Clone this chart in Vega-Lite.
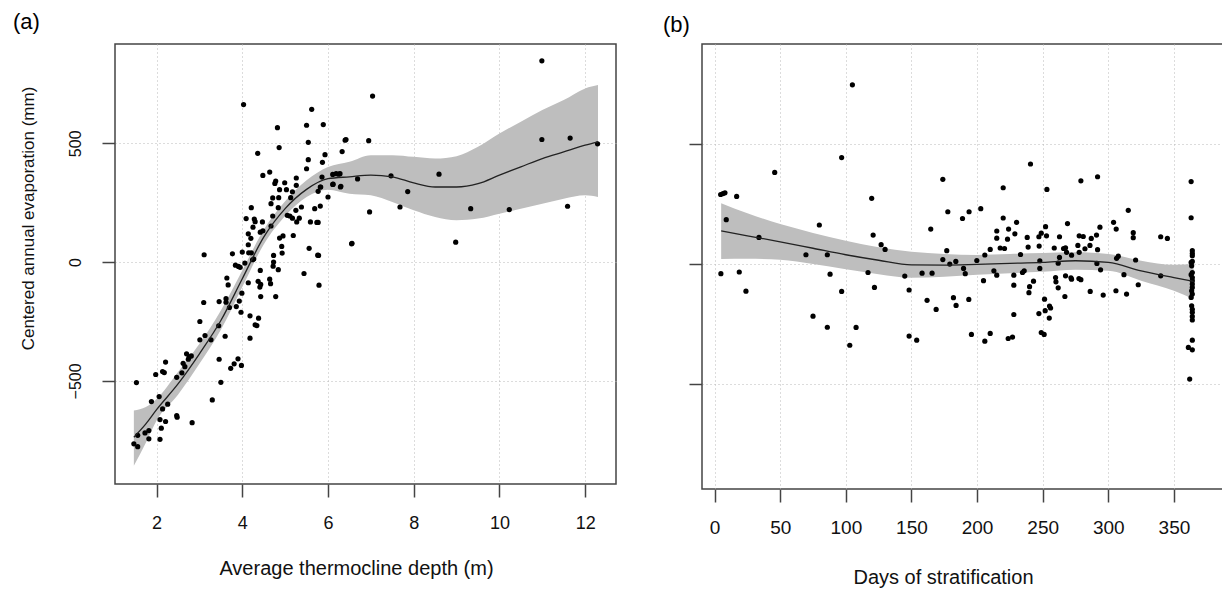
{
  "$schema": "https://vega.github.io/schema/vega-lite/v6.json",
  "padding": {"left": 12, "top": 10, "right": 0, "bottom": 0},
  "background": "white",
  "datasets": {
    "a_pts": [
      {"x": 4.03, "y": 663}, {"x": 5.62, "y": 643}, {"x": 4.82, "y": 566}, {"x": 5.50, "y": 576}, {"x": 5.89, "y": 579},
      {"x": 4.86, "y": 482}, {"x": 5.54, "y": 504}, {"x": 6.40, "y": 513}, {"x": 4.36, "y": 458}, {"x": 6.33, "y": 465},
      {"x": 5.54, "y": 431}, {"x": 5.93, "y": 452}, {"x": 5.87, "y": 420}, {"x": 5.50, "y": 393}, {"x": 4.48, "y": 365},
      {"x": 4.64, "y": 379}, {"x": 4.78, "y": 341}, {"x": 4.76, "y": 331}, {"x": 4.99, "y": 334}, {"x": 5.26, "y": 354},
      {"x": 4.87, "y": 305}, {"x": 5.03, "y": 305}, {"x": 5.17, "y": 296}, {"x": 5.26, "y": 323}, {"x": 4.71, "y": 270},
      {"x": 4.85, "y": 271}, {"x": 4.67, "y": 246}, {"x": 4.84, "y": 229}, {"x": 5.13, "y": 271}, {"x": 4.21, "y": 229},
      {"x": 5.11, "y": 194}, {"x": 5.05, "y": 197}, {"x": 5.25, "y": 218}, {"x": 5.17, "y": 185}, {"x": 5.33, "y": 185},
      {"x": 5.27, "y": 169}, {"x": 5.38, "y": 232}, {"x": 4.71, "y": 194}, {"x": 4.09, "y": 183}, {"x": 4.28, "y": 181},
      {"x": 4.30, "y": 170}, {"x": 4.47, "y": 169}, {"x": 4.25, "y": 147}, {"x": 4.42, "y": 126}, {"x": 4.48, "y": 132},
      {"x": 4.14, "y": 119}, {"x": 4.67, "y": 152}, {"x": 4.20, "y": 100}, {"x": 4.87, "y": 101}, {"x": 4.95, "y": 110},
      {"x": 5.19, "y": 112}, {"x": 5.59, "y": 169}, {"x": 5.74, "y": 167}, {"x": 5.77, "y": 167}, {"x": 5.69, "y": 225},
      {"x": 5.82, "y": 236}, {"x": 5.77, "y": 298}, {"x": 5.82, "y": 316}, {"x": 6.00, "y": 274}, {"x": 6.11, "y": 327},
      {"x": 6.19, "y": 372}, {"x": 6.28, "y": 372}, {"x": 6.29, "y": 316}, {"x": 6.11, "y": 369}, {"x": 5.86, "y": 358},
      {"x": 5.56, "y": 58}, {"x": 5.76, "y": 29}, {"x": 5.79, "y": -97}, {"x": 5.44, "y": -48}, {"x": 6.55, "y": 77},
      {"x": 4.92, "y": 66}, {"x": 4.93, "y": 38}, {"x": 4.73, "y": 28}, {"x": 4.73, "y": 0}, {"x": 4.72, "y": -17},
      {"x": 4.84, "y": -32}, {"x": 4.78, "y": -145}, {"x": 4.66, "y": -91}, {"x": 4.64, "y": -72}, {"x": 4.42, "y": -35},
      {"x": 4.43, "y": -94}, {"x": 4.41, "y": -105}, {"x": 4.43, "y": -145}, {"x": 4.37, "y": -81}, {"x": 4.14, "y": 73},
      {"x": 4.15, "y": 39}, {"x": 4.21, "y": 39}, {"x": 4.24, "y": 10}, {"x": 4.27, "y": 13}, {"x": 4.06, "y": -4},
      {"x": 4.00, "y": 42}, {"x": 3.77, "y": 35}, {"x": 3.11, "y": 31}, {"x": 3.84, "y": -13}, {"x": 3.91, "y": -18},
      {"x": 3.95, "y": -22}, {"x": 4.14, "y": -87}, {"x": 3.99, "y": -131}, {"x": 3.93, "y": -164}, {"x": 3.86, "y": -187},
      {"x": 3.97, "y": -211}, {"x": 4.18, "y": -226}, {"x": 4.38, "y": -236}, {"x": 4.30, "y": -264}, {"x": 4.34, "y": -267},
      {"x": 4.18, "y": -320}, {"x": 3.64, "y": -67}, {"x": 3.67, "y": -96}, {"x": 3.62, "y": -154}, {"x": 3.62, "y": -169},
      {"x": 3.46, "y": -166}, {"x": 3.70, "y": -191}, {"x": 3.10, "y": -170}, {"x": 3.01, "y": -250}, {"x": 3.45, "y": -268},
      {"x": 3.13, "y": -309}, {"x": 3.01, "y": -327}, {"x": 3.27, "y": -327}, {"x": 3.60, "y": -312}, {"x": 3.46, "y": -409},
      {"x": 3.90, "y": -407}, {"x": 3.98, "y": -435}, {"x": 3.81, "y": -428}, {"x": 3.73, "y": -447}, {"x": 3.50, "y": -506},
      {"x": 3.30, "y": -580}, {"x": 2.83, "y": -676}, {"x": 1.53, "y": -507}, {"x": 1.98, "y": -473}, {"x": 2.14, "y": -461},
      {"x": 2.18, "y": -465}, {"x": 2.21, "y": -421}, {"x": 2.47, "y": -485}, {"x": 2.62, "y": -426}, {"x": 2.66, "y": -440},
      {"x": 2.70, "y": -386}, {"x": 2.76, "y": -400}, {"x": 2.81, "y": -395}, {"x": 2.74, "y": -409}, {"x": 2.59, "y": -466},
      {"x": 1.88, "y": -587}, {"x": 2.06, "y": -566}, {"x": 2.26, "y": -598}, {"x": 2.14, "y": -618}, {"x": 2.21, "y": -671},
      {"x": 2.08, "y": -663}, {"x": 2.47, "y": -646}, {"x": 2.48, "y": -653}, {"x": 2.11, "y": -699}, {"x": 2.08, "y": -746},
      {"x": 1.82, "y": -709}, {"x": 1.82, "y": -744}, {"x": 1.73, "y": -719}, {"x": 1.56, "y": -729}, {"x": 1.47, "y": -765},
      {"x": 1.56, "y": -777},
      {"x": 10.99, "y": 847}, {"x": 7.04, "y": 699}, {"x": 6.42, "y": 516}, {"x": 6.95, "y": 511}, {"x": 10.99, "y": 516},
      {"x": 11.65, "y": 522}, {"x": 12.29, "y": 498}, {"x": 7.47, "y": 363}, {"x": 8.59, "y": 370}, {"x": 6.69, "y": 350},
      {"x": 7.86, "y": 297}, {"x": 7.68, "y": 232}, {"x": 6.97, "y": 211}, {"x": 9.33, "y": 225}, {"x": 10.23, "y": 221},
      {"x": 11.59, "y": 235}, {"x": 6.56, "y": 79}, {"x": 8.98, "y": 84}, {"x": 6.25, "y": 370}, {"x": 6.12, "y": 328},
      {"x": 6.30, "y": 319}, {"x": 5.83, "y": 316}, {"x": 5.78, "y": 28}
    ],
    "a_fit": [
      {"x": 1.47, "fit": -737, "lo": -857, "hi": -625},
      {"x": 1.75, "fit": -681, "lo": -760, "hi": -610},
      {"x": 2.0, "fit": -621, "lo": -667, "hi": -576},
      {"x": 2.5, "fit": -513, "lo": -558, "hi": -463},
      {"x": 3.0, "fit": -386, "lo": -428, "hi": -344},
      {"x": 3.5, "fit": -246, "lo": -285, "hi": -204},
      {"x": 4.0, "fit": -70, "lo": -105, "hi": -35},
      {"x": 4.5, "fit": 105, "lo": 74, "hi": 136},
      {"x": 5.0, "fit": 225, "lo": 194, "hi": 256},
      {"x": 5.5, "fit": 306, "lo": 274, "hi": 344},
      {"x": 6.0, "fit": 351, "lo": 305, "hi": 400},
      {"x": 6.5, "fit": 359, "lo": 288, "hi": 422},
      {"x": 7.0, "fit": 366, "lo": 281, "hi": 450},
      {"x": 7.5, "fit": 359, "lo": 253, "hi": 450},
      {"x": 8.0, "fit": 333, "lo": 218, "hi": 443},
      {"x": 8.5, "fit": 316, "lo": 190, "hi": 436},
      {"x": 9.0, "fit": 316, "lo": 176, "hi": 446},
      {"x": 9.5, "fit": 330, "lo": 183, "hi": 485},
      {"x": 10.0, "fit": 366, "lo": 204, "hi": 541},
      {"x": 10.5, "fit": 401, "lo": 225, "hi": 591},
      {"x": 11.0, "fit": 436, "lo": 246, "hi": 640},
      {"x": 11.5, "fit": 464, "lo": 267, "hi": 682},
      {"x": 12.0, "fit": 492, "lo": 281, "hi": 731},
      {"x": 12.3, "fit": 506, "lo": 274, "hi": 745}
    ],
    "b_pts": [
      {"x": 105, "y": 747}, {"x": 96.8, "y": 444}, {"x": 45.8, "y": 382}, {"x": 4.6, "y": 290}, {"x": 6.4, "y": 294},
      {"x": 7.9, "y": 297}, {"x": 16.8, "y": 282}, {"x": 8.9, "y": 185}, {"x": 33.8, "y": 111}, {"x": 4.8, "y": -40},
      {"x": 18.8, "y": -33}, {"x": 23.9, "y": -113}, {"x": 119.7, "y": 274}, {"x": 79.8, "y": 163}, {"x": 69.6, "y": 39},
      {"x": 85.9, "y": 39}, {"x": 88, "y": -42}, {"x": 96.8, "y": -114}, {"x": 75, "y": -217}, {"x": 85.9, "y": -263},
      {"x": 103, "y": -338}, {"x": 107.8, "y": -264}, {"x": 120.8, "y": 121}, {"x": 126.9, "y": 81}, {"x": 129.9, "y": 61},
      {"x": 116.9, "y": -35}, {"x": 121.8, "y": -97}, {"x": 144.9, "y": -50}, {"x": 148.2, "y": -108}, {"x": 148.2, "y": -300},
      {"x": 154, "y": -317}, {"x": 158.1, "y": -38}, {"x": 165.7, "y": -38}, {"x": 161.9, "y": -151}, {"x": 168.8, "y": -189},
      {"x": 164.7, "y": 146}, {"x": 173.9, "y": 353}, {"x": 177.7, "y": 218}, {"x": 176.9, "y": 56}, {"x": 173.9, "y": 19},
      {"x": 179.2, "y": 0}, {"x": 183.8, "y": 11}, {"x": 189.7, "y": -18}, {"x": 191, "y": -40}, {"x": 182, "y": -140},
      {"x": 184, "y": -172}, {"x": 193.7, "y": -147}, {"x": 188.9, "y": 190}, {"x": 193.9, "y": 218}, {"x": 202.8, "y": 231},
      {"x": 195.7, "y": -293}, {"x": 199.8, "y": 15}, {"x": 205.9, "y": 38}, {"x": 204.9, "y": -69}, {"x": 210, "y": 61},
      {"x": 205.9, "y": -321}, {"x": 210, "y": -289}, {"x": 212.8, "y": -28}, {"x": 215, "y": -46}, {"x": 215, "y": 138},
      {"x": 215, "y": 108}, {"x": 217.6, "y": 67}, {"x": 220.9, "y": 65}, {"x": 219.9, "y": 192}, {"x": 219.9, "y": 318},
      {"x": 224, "y": 146}, {"x": 223.2, "y": 104}, {"x": 228.8, "y": 126}, {"x": 230.1, "y": 174}, {"x": 228, "y": -46},
      {"x": 228, "y": -88}, {"x": 228, "y": -210}, {"x": 223.7, "y": -310}, {"x": 227, "y": -304}, {"x": 233.1, "y": 40},
      {"x": 234.6, "y": -35}, {"x": 235.9, "y": -28}, {"x": 238.2, "y": 111}, {"x": 238.9, "y": 71}, {"x": 240.7, "y": 417},
      {"x": 243, "y": -71}, {"x": 240, "y": -94}, {"x": 239.5, "y": -119}, {"x": 247.1, "y": 114}, {"x": 248.9, "y": 129},
      {"x": 252.2, "y": 156}, {"x": 252.9, "y": 118}, {"x": 247.3, "y": 75}, {"x": 247.8, "y": 14}, {"x": 247.8, "y": -18},
      {"x": 253.2, "y": 311}, {"x": 251.4, "y": -146}, {"x": 251.9, "y": -194}, {"x": 255.2, "y": -175}, {"x": 256, "y": -183},
      {"x": 255, "y": -225}, {"x": 247.1, "y": -206}, {"x": 248.9, "y": -285}, {"x": 251.1, "y": -293}, {"x": 258.8, "y": 67},
      {"x": 259.8, "y": -56}, {"x": 260.1, "y": -74}, {"x": 261.8, "y": -99}, {"x": 261.8, "y": 4}, {"x": 262.8, "y": 28},
      {"x": 262.8, "y": 114}, {"x": 265.9, "y": 65}, {"x": 267.4, "y": 68}, {"x": 268.9, "y": 169}, {"x": 267.4, "y": -49},
      {"x": 266.9, "y": -135}, {"x": 268.2, "y": 49}, {"x": 272, "y": 37}, {"x": 271.5, "y": -57}, {"x": 272, "y": -63},
      {"x": 276.8, "y": 78}, {"x": 277.8, "y": 49}, {"x": 277.8, "y": 118}, {"x": 280.9, "y": 115}, {"x": 279.1, "y": 347},
      {"x": 277.6, "y": -60}, {"x": 279.1, "y": -65}, {"x": 282.2, "y": 64}, {"x": 286, "y": 78}, {"x": 287, "y": 107},
      {"x": 291, "y": 121}, {"x": 293.6, "y": 154}, {"x": 291.8, "y": 364}, {"x": 291.8, "y": 60}, {"x": 291.3, "y": 3},
      {"x": 294.1, "y": -24}, {"x": 286.2, "y": -114}, {"x": 296.1, "y": -129}, {"x": 304, "y": 174}, {"x": 306, "y": 146},
      {"x": 307.6, "y": 33}, {"x": 306.3, "y": 24}, {"x": 311.9, "y": -44}, {"x": 305.8, "y": -111}, {"x": 313.9, "y": -125},
      {"x": 315.2, "y": 224}, {"x": 319, "y": 131}, {"x": 319, "y": 110}, {"x": 320.8, "y": 17}, {"x": 322.8, "y": -86},
      {"x": 339.9, "y": 114}, {"x": 345, "y": 107}, {"x": 339.9, "y": -49},
      {"x": 363.1, "y": 344}, {"x": 363.1, "y": 193}, {"x": 364, "y": 56}, {"x": 364, "y": 44}, {"x": 364, "y": 35},
      {"x": 364, "y": 11}, {"x": 363.1, "y": 7}, {"x": 363.5, "y": -7}, {"x": 364, "y": -35}, {"x": 363.1, "y": -44},
      {"x": 364, "y": -56}, {"x": 364, "y": -69}, {"x": 364, "y": -83}, {"x": 364, "y": -97}, {"x": 363.5, "y": -111},
      {"x": 364, "y": -125}, {"x": 363.1, "y": -139}, {"x": 363.5, "y": -174}, {"x": 364, "y": -188}, {"x": 364, "y": -201},
      {"x": 364, "y": -218}, {"x": 364, "y": -233}, {"x": 364, "y": -317}, {"x": 361, "y": -347}, {"x": 364, "y": -357},
      {"x": 362, "y": -479}
    ],
    "b_fit": [
      {"x": 5, "fit": 138, "lo": 21, "hi": 254},
      {"x": 25, "fit": 118, "lo": 22, "hi": 212},
      {"x": 50, "fit": 93, "lo": 18, "hi": 167},
      {"x": 75, "fit": 66, "lo": 0, "hi": 130},
      {"x": 100, "fit": 39, "lo": -21, "hi": 97},
      {"x": 125, "fit": 16, "lo": -42, "hi": 70},
      {"x": 150, "fit": -3, "lo": -57, "hi": 51},
      {"x": 175, "fit": -4, "lo": -53, "hi": 42},
      {"x": 200, "fit": -1, "lo": -44, "hi": 38},
      {"x": 225, "fit": 3, "lo": -38, "hi": 42},
      {"x": 250, "fit": 7, "lo": -32, "hi": 46},
      {"x": 275, "fit": 14, "lo": -24, "hi": 49},
      {"x": 300, "fit": 7, "lo": -28, "hi": 42},
      {"x": 325, "fit": -28, "lo": -69, "hi": 14},
      {"x": 350, "fit": -56, "lo": -111, "hi": -3},
      {"x": 365, "fit": -72, "lo": -146, "hi": 0}
    ]
  },
  "hconcat": [
    {
      "width": 501,
      "height": 440,
      "title": {"text": "(a)", "anchor": "start", "frame": "group", "dx": -102, "fontSize": 22, "fontWeight": "normal", "offset": 10, "color": "#000"},
      "layer": [
        {
          "data": {"name": "a_fit"},
          "mark": {"type": "area", "color": "#bebebe", "opacity": 1, "interpolate": "monotone"},
          "encoding": {
            "x": {"field": "x", "type": "quantitative", "title": "Average thermocline depth (m)",
                  "scale": {"domain": [1.03, 12.72], "nice": false, "zero": false},
                  "axis": {"values": [2, 4, 6, 8, 10, 12], "labelFontSize": 18, "titleFontSize": 20, "labelPadding": 17, "titlePadding": 26, "titleX": 241}},
            "y": {"field": "lo", "type": "quantitative", "title": "Centered annual evaporation (mm)",
                  "scale": {"domain": [-934, 918], "nice": false, "zero": false},
                  "axis": {"values": [-500, 0, 500], "labelAngle": -90, "labelFontSize": 16, "titleFontSize": 17, "labelPadding": 19, "titlePadding": 30, "titleY": 174}},
            "y2": {"field": "hi"}
          }
        },
        {
          "data": {"name": "a_pts"},
          "mark": {"type": "circle", "size": 27, "color": "#000", "opacity": 1},
          "encoding": {
            "x": {"field": "x", "type": "quantitative", "title": "Average thermocline depth (m)"},
            "y": {"field": "y", "type": "quantitative", "title": "Centered annual evaporation (mm)"}
          }
        },
        {
          "data": {"name": "a_fit"},
          "mark": {"type": "line", "color": "#222", "strokeWidth": 1.3, "interpolate": "monotone"},
          "encoding": {
            "x": {"field": "x", "type": "quantitative", "title": "Average thermocline depth (m)"},
            "y": {"field": "fit", "type": "quantitative", "title": "Centered annual evaporation (mm)"}
          }
        }
      ]
    },
    {
      "width": 531,
      "height": 445,
      "title": {"text": "(b)", "anchor": "start", "frame": "group", "dx": -39, "fontSize": 22, "fontWeight": "normal", "offset": 7, "color": "#000"},
      "layer": [
        {
          "data": {"name": "b_fit"},
          "mark": {"type": "area", "color": "#bebebe", "opacity": 1, "interpolate": "monotone"},
          "encoding": {
            "x": {"field": "x", "type": "quantitative", "title": "Days of stratification",
                  "scale": {"domain": [-9.6, 395], "nice": false, "zero": false},
                  "axis": {"values": [0, 50, 100, 150, 200, 250, 300, 350], "labelFontSize": 19, "titleFontSize": 20, "labelPadding": 16, "titlePadding": 30, "titleX": 241}},
            "y": {"field": "lo", "type": "quantitative", "title": null,
                  "scale": {"domain": [-937, 917], "nice": false, "zero": false},
                  "axis": {"values": [-500, 0, 500], "labels": false, "title": null}},
            "y2": {"field": "hi"}
          }
        },
        {
          "data": {"name": "b_pts"},
          "mark": {"type": "circle", "size": 27, "color": "#000", "opacity": 1},
          "encoding": {
            "x": {"field": "x", "type": "quantitative", "title": "Days of stratification"},
            "y": {"field": "y", "type": "quantitative", "title": null}
          }
        },
        {
          "data": {"name": "b_fit"},
          "mark": {"type": "line", "color": "#222", "strokeWidth": 1.3, "interpolate": "monotone"},
          "encoding": {
            "x": {"field": "x", "type": "quantitative", "title": "Days of stratification"},
            "y": {"field": "fit", "type": "quantitative", "title": null}
          }
        }
      ]
    }
  ],
  "spacing": 86,
  "bounds": "flush",
  "config": {
    "font": "Liberation Sans",
    "view": {"stroke": "#444", "strokeWidth": 1.5},
    "axis": {
      "domain": false,
      "grid": true,
      "gridColor": "#b8b8b8",
      "gridDash": [1, 3],
      "gridWidth": 1,
      "ticks": true,
      "tickColor": "#444",
      "tickSize": 13,
      "tickWidth": 1.5,
      "labelFont": "Liberation Sans",
      "titleFont": "Liberation Sans",
      "labelColor": "#111",
      "titleColor": "#111",
      "titleFontWeight": "normal"
    },
    "title": {"font": "Liberation Sans"}
  }
}
